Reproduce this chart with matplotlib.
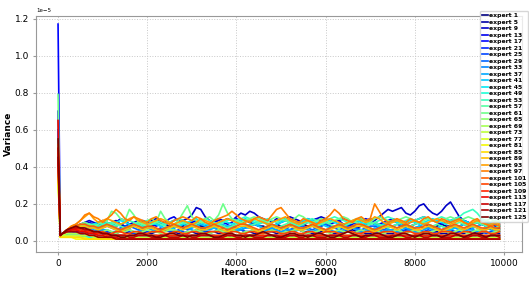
import matplotlib
matplotlib.use("Agg")
import matplotlib.pyplot as plt
import numpy as np

# iterations at which the variance was logged
iterations = [0, 50] + list(range(100, 10000, 100))

# variance per expert, in units of 1e-7 (hundredths of the 1e-5 axis unit)
expert_1 = [55, 3, 4, 5, 6, 7, 7, 8, 8, 9,
            8, 9, 10, 9, 8, 9, 8, 7, 8, 9,
            8, 7, 8, 9, 10, 9, 8, 7, 8, 8,
            9, 10, 9, 8, 8, 7, 8, 9, 8, 7,
            8, 9, 10, 11, 10, 9, 8, 8, 7, 8,
            9, 8, 7, 8, 9, 10, 9, 8, 8, 7,
            8, 9, 8, 7, 8, 9, 9, 8, 7, 8,
            9, 10, 9, 8, 9, 10, 11, 10, 9, 8,
            8, 9, 10, 9, 8, 7, 8, 9, 8, 8,
            7, 8, 9, 8, 7, 8, 9, 8, 7, 6,
            7]
expert_5 = [45, 3, 3, 4, 5, 5, 5, 5, 5, 5,
            4, 5, 5, 4, 4, 5, 5, 4, 4, 5,
            5, 4, 4, 5, 5, 6, 5, 5, 4, 4,
            5, 5, 4, 4, 5, 5, 5, 4, 4, 5,
            5, 6, 6, 5, 5, 4, 4, 5, 5, 5,
            4, 4, 5, 5, 6, 6, 5, 5, 4, 4,
            5, 5, 5, 4, 4, 5, 5, 6, 5, 5,
            4, 4, 5, 5, 5, 4, 4, 5, 5, 6,
            6, 5, 5, 4, 4, 5, 5, 4, 4, 5,
            5, 4, 4, 5, 5, 4, 4, 5, 4, 4,
            4]
expert_9 = [70, 3, 4, 6, 7, 8, 9, 10, 11, 10,
            9, 8, 9, 10, 11, 9, 8, 9, 10, 11,
            10, 9, 11, 12, 10, 9, 10, 11, 12, 11,
            12, 14, 18, 17, 13, 11, 10, 12, 11, 12,
            11, 13, 15, 14, 16, 15, 13, 12, 11, 10,
            12, 11, 12, 13, 12, 11, 10, 12, 11, 12,
            13, 12, 11, 10, 11, 12, 11, 10, 11, 12,
            11, 12, 11, 13, 15, 17, 16, 17, 18, 15,
            14, 16, 19, 20, 17, 15, 14, 16, 19, 21,
            17, 13, 11, 10, 9, 10, 9, 8, 9, 8,
            8]
expert_13 = [60, 3, 4, 5, 7, 8, 9, 9, 10, 9,
             10, 11, 9, 8, 10, 12, 11, 9, 8, 9,
             11, 10, 9, 8, 9, 10, 12, 13, 11, 10,
             9, 10, 11, 9, 8, 9, 10, 11, 10, 9,
             10, 12, 11, 9, 8, 9, 10, 11, 9, 8,
             9, 10, 11, 10, 9, 8, 9, 10, 11, 12,
             11, 10, 9, 10, 11, 9, 8, 9, 10, 11,
             12, 11, 10, 9, 10, 11, 12, 11, 10, 9,
             10, 11, 12, 13, 12, 11, 10, 9, 10, 11,
             12, 13, 11, 10, 9, 10, 11, 10, 9, 10,
             9]
expert_17 = [117, 3, 4, 4, 5, 5, 5, 4, 4, 4,
             3, 3, 3, 2, 2, 3, 3, 2, 2, 2,
             2, 2, 3, 3, 2, 2, 2, 3, 3, 2,
             3, 3, 2, 2, 2, 3, 3, 2, 2, 3,
             2, 2, 3, 3, 3, 2, 2, 2, 3, 3,
             2, 3, 3, 2, 2, 2, 3, 3, 2, 2,
             3, 3, 2, 2, 3, 3, 2, 2, 2, 3,
             3, 2, 2, 2, 3, 3, 3, 2, 2, 3,
             2, 2, 3, 3, 2, 2, 3, 3, 2, 2,
             3, 3, 2, 2, 2, 3, 3, 2, 2, 2,
             2]
expert_21 = [40, 3, 3, 4, 4, 4, 4, 3, 3, 3,
             3, 3, 2, 2, 3, 3, 2, 2, 2, 3,
             3, 2, 2, 2, 3, 3, 2, 2, 3, 3,
             2, 2, 2, 3, 3, 2, 2, 2, 3, 3,
             3, 2, 2, 3, 3, 3, 2, 2, 2, 3,
             3, 2, 2, 2, 3, 3, 2, 2, 3, 3,
             2, 2, 3, 3, 2, 2, 2, 3, 3, 2,
             2, 3, 3, 2, 2, 2, 3, 3, 3, 2,
             2, 2, 3, 3, 2, 2, 3, 3, 2, 2,
             3, 3, 2, 2, 2, 3, 3, 2, 2, 3,
             2]
expert_25 = [52, 3, 4, 5, 6, 6, 6, 6, 5, 5,
             5, 6, 5, 4, 5, 6, 6, 5, 4, 5,
             6, 5, 5, 6, 7, 6, 5, 5, 6, 5,
             4, 5, 6, 6, 5, 4, 5, 6, 5, 5,
             6, 7, 6, 5, 5, 6, 5, 4, 5, 6,
             6, 5, 5, 6, 7, 6, 5, 4, 5, 5,
             6, 6, 5, 5, 4, 5, 6, 7, 6, 5,
             5, 6, 5, 4, 5, 6, 6, 5, 5, 6,
             7, 6, 5, 5, 6, 5, 4, 5, 6, 6,
             5, 5, 6, 7, 6, 5, 5, 4, 5, 5,
             5]
expert_29 = [48, 3, 4, 5, 6, 7, 7, 8, 7, 7,
             6, 7, 8, 7, 6, 7, 8, 8, 7, 6,
             7, 8, 7, 6, 6, 7, 8, 9, 8, 7,
             6, 7, 8, 7, 7, 8, 7, 6, 7, 8,
             8, 7, 6, 7, 8, 9, 8, 7, 6, 7,
             8, 7, 7, 6, 7, 8, 8, 7, 6, 7,
             8, 9, 8, 7, 6, 7, 8, 7, 7, 6,
             7, 8, 8, 7, 6, 7, 8, 9, 8, 7,
             6, 7, 8, 7, 7, 8, 7, 6, 7, 8,
             8, 7, 6, 7, 8, 7, 6, 6, 7, 7,
             6]
expert_33 = [38, 3, 3, 3, 3, 3, 3, 2, 2, 2,
             2, 2, 2, 1, 1, 2, 2, 1, 1, 1,
             2, 2, 1, 1, 1, 2, 2, 1, 1, 2,
             2, 1, 1, 1, 2, 2, 2, 1, 1, 1,
             2, 2, 1, 1, 2, 2, 1, 1, 1, 2,
             2, 1, 1, 1, 2, 2, 1, 1, 2, 2,
             1, 1, 1, 2, 2, 1, 1, 1, 2, 2,
             2, 1, 1, 2, 2, 1, 1, 1, 2, 2,
             1, 1, 2, 2, 1, 1, 1, 2, 2, 1,
             1, 2, 2, 1, 1, 1, 2, 2, 1, 1,
             1]
expert_37 = [45, 3, 4, 5, 6, 6, 7, 6, 6, 6,
             5, 6, 6, 5, 5, 6, 7, 6, 5, 5,
             6, 7, 6, 5, 6, 7, 6, 6, 5, 6,
             7, 6, 5, 5, 6, 6, 7, 6, 5, 6,
             6, 5, 6, 7, 7, 6, 5, 5, 6, 7,
             6, 5, 6, 6, 5, 6, 7, 6, 5, 6,
             7, 6, 6, 5, 5, 6, 7, 7, 6, 5,
             6, 6, 7, 6, 5, 6, 6, 5, 6, 7,
             6, 5, 5, 6, 7, 6, 6, 5, 6, 6,
             7, 6, 5, 6, 6, 5, 6, 7, 6, 5,
             6]
expert_41 = [50, 3, 4, 5, 7, 8, 8, 8, 7, 8,
             7, 8, 9, 8, 7, 6, 7, 8, 9, 8,
             7, 8, 9, 9, 8, 7, 6, 7, 8, 9,
             8, 7, 8, 9, 8, 7, 7, 8, 9, 8,
             7, 6, 7, 8, 9, 9, 8, 7, 8, 9,
             8, 7, 8, 9, 8, 7, 6, 7, 8, 8,
             9, 8, 7, 8, 9, 8, 7, 8, 9, 9,
             8, 7, 6, 7, 8, 9, 8, 7, 8, 9,
             8, 7, 8, 9, 9, 8, 7, 8, 7, 6,
             7, 8, 9, 8, 7, 8, 9, 8, 7, 7,
             8]
expert_45 = [50, 3, 4, 5, 6, 7, 8, 8, 8, 9,
             10, 9, 8, 9, 10, 11, 10, 9, 8, 9,
             10, 11, 10, 9, 8, 9, 10, 9, 8, 9,
             10, 11, 12, 10, 9, 8, 9, 10, 11, 10,
             9, 10, 11, 12, 11, 10, 9, 10, 9, 8,
             9, 10, 11, 10, 9, 10, 11, 12, 11, 10,
             9, 10, 11, 10, 9, 8, 9, 10, 11, 10,
             9, 10, 9, 8, 9, 10, 11, 10, 9, 10,
             11, 10, 9, 10, 11, 12, 11, 10, 9, 10,
             11, 12, 11, 10, 9, 10, 11, 10, 9, 9,
             10]
expert_49 = [42, 3, 3, 3, 3, 3, 2, 2, 2, 2,
             2, 1, 1, 1, 1, 1, 1, 1, 1, 1,
             1, 1, 1, 1, 1, 1, 1, 1, 1, 1,
             1, 1, 1, 1, 1, 1, 1, 1, 1, 1,
             1, 1, 1, 1, 1, 1, 1, 1, 1, 1,
             1, 1, 1, 1, 1, 1, 1, 1, 1, 1,
             1, 1, 1, 1, 1, 1, 1, 1, 1, 1,
             1, 1, 1, 1, 1, 1, 1, 1, 1, 1,
             1, 1, 1, 1, 1, 1, 1, 1, 1, 1,
             1, 1, 1, 1, 1, 1, 1, 1, 1, 1,
             1]
expert_53 = [55, 3, 4, 5, 6, 7, 8, 8, 9, 9,
             8, 9, 10, 9, 8, 9, 10, 11, 10, 9,
             8, 9, 10, 11, 10, 9, 10, 11, 12, 11,
             10, 9, 10, 11, 12, 11, 10, 9, 10, 11,
             12, 11, 12, 13, 12, 11, 10, 11, 12, 11,
             10, 11, 12, 11, 10, 9, 10, 11, 12, 11,
             10, 11, 12, 13, 12, 11, 10, 11, 12, 11,
             10, 9, 10, 11, 12, 13, 12, 11, 10, 11,
             12, 11, 12, 13, 12, 11, 12, 13, 12, 11,
             12, 13, 15, 16, 17, 15, 12, 11, 10, 11,
             10]
expert_57 = [50, 3, 4, 5, 6, 7, 8, 9, 8, 8,
             7, 8, 9, 10, 9, 8, 7, 8, 9, 10,
             9, 8, 9, 10, 9, 8, 7, 8, 9, 10,
             9, 8, 9, 10, 10, 9, 8, 9, 8, 7,
             8, 9, 10, 9, 8, 9, 10, 10, 9, 8,
             7, 8, 9, 10, 9, 8, 9, 10, 9, 8,
             9, 10, 9, 8, 7, 8, 9, 10, 10, 9,
             8, 9, 10, 9, 8, 7, 8, 9, 10, 9,
             8, 9, 10, 10, 9, 8, 9, 8, 7, 8,
             9, 10, 9, 8, 9, 10, 9, 8, 8, 7,
             8]
expert_61 = [79, 3, 4, 6, 7, 8, 9, 10, 9, 8,
             9, 10, 11, 16, 15, 12, 11, 17, 14, 10,
             9, 11, 12, 10, 16, 12, 10, 9, 11, 15,
             19, 13, 11, 10, 12, 13, 11, 14, 20, 15,
             12, 11, 10, 11, 12, 13, 12, 11, 10, 12,
             13, 12, 11, 10, 12, 14, 13, 11, 10, 11,
             12, 11, 10, 11, 12, 13, 12, 10, 11, 12,
             11, 10, 12, 13, 12, 11, 10, 11, 12, 13,
             12, 11, 10, 11, 12, 11, 10, 11, 12, 13,
             12, 11, 12, 13, 12, 11, 10, 11, 12, 10,
             11]
expert_65 = [46, 3, 4, 5, 5, 6, 6, 5, 5, 5,
             4, 5, 6, 5, 4, 5, 5, 6, 5, 4,
             5, 6, 5, 5, 4, 5, 6, 6, 5, 4,
             5, 5, 6, 5, 4, 4, 5, 6, 5, 5,
             6, 5, 4, 5, 5, 6, 5, 4, 5, 6,
             5, 4, 5, 5, 6, 6, 5, 4, 5, 5,
             6, 5, 4, 5, 6, 5, 5, 4, 5, 6,
             5, 5, 6, 5, 4, 5, 5, 6, 5, 4,
             5, 6, 5, 4, 5, 5, 6, 5, 5, 4,
             5, 6, 5, 4, 5, 6, 5, 5, 4, 5,
             5]
expert_69 = [40, 3, 3, 4, 4, 4, 4, 4, 3, 3,
             3, 3, 3, 3, 3, 3, 3, 3, 3, 3,
             3, 3, 3, 3, 3, 3, 3, 3, 3, 3,
             3, 3, 3, 3, 3, 3, 3, 3, 3, 3,
             3, 3, 3, 3, 3, 3, 3, 3, 3, 3,
             3, 3, 3, 3, 3, 3, 3, 3, 3, 3,
             3, 3, 3, 3, 3, 3, 3, 3, 3, 3,
             3, 3, 3, 3, 3, 3, 3, 3, 3, 3,
             3, 3, 3, 3, 3, 3, 3, 3, 3, 3,
             3, 3, 3, 3, 3, 3, 3, 3, 3, 3,
             3]
expert_73 = [36, 3, 3, 3, 3, 3, 3, 3, 3, 2,
             2, 2, 2, 2, 2, 2, 2, 2, 2, 2,
             2, 2, 2, 2, 2, 2, 2, 2, 2, 2,
             2, 2, 2, 2, 2, 2, 2, 2, 2, 2,
             2, 2, 2, 2, 2, 2, 2, 2, 2, 2,
             2, 2, 2, 2, 2, 2, 2, 2, 2, 2,
             2, 2, 2, 2, 2, 2, 2, 2, 2, 2,
             2, 2, 2, 2, 2, 2, 2, 2, 2, 2,
             2, 2, 2, 2, 2, 2, 2, 2, 2, 2,
             2, 2, 2, 2, 2, 2, 2, 2, 2, 2,
             2]
expert_77 = [34, 2, 2, 2, 2, 2, 2, 2, 1, 1,
             1, 1, 1, 1, 1, 1, 1, 1, 1, 1,
             1, 1, 1, 1, 1, 1, 1, 1, 1, 1,
             1, 1, 1, 1, 1, 1, 1, 1, 1, 1,
             1, 1, 1, 1, 1, 1, 1, 1, 1, 1,
             1, 1, 1, 1, 1, 1, 1, 1, 1, 1,
             1, 1, 1, 1, 1, 1, 1, 1, 1, 1,
             1, 1, 1, 1, 1, 1, 1, 1, 1, 1,
             1, 1, 1, 1, 1, 1, 1, 1, 1, 1,
             1, 1, 1, 1, 1, 1, 1, 1, 1, 1,
             1]
expert_81 = [32, 2, 2, 2, 2, 1, 1, 1, 1, 1,
             1, 1, 1, 1, 1, 1, 1, 1, 1, 1,
             1, 1, 1, 1, 1, 1, 1, 1, 1, 1,
             1, 1, 1, 1, 1, 1, 1, 1, 1, 1,
             1, 1, 1, 1, 1, 1, 1, 1, 1, 1,
             1, 1, 1, 1, 1, 1, 1, 1, 1, 1,
             1, 1, 1, 1, 1, 1, 1, 1, 1, 1,
             1, 1, 1, 1, 1, 1, 1, 1, 1, 1,
             1, 1, 1, 1, 1, 1, 1, 1, 1, 1,
             1, 1, 1, 1, 1, 1, 1, 1, 1, 1,
             1]
expert_85 = [35, 2, 2, 2, 2, 2, 2, 1, 1, 1,
             1, 1, 1, 1, 1, 1, 1, 1, 1, 1,
             1, 1, 1, 1, 1, 1, 1, 1, 1, 1,
             1, 1, 1, 1, 1, 1, 1, 1, 1, 1,
             1, 1, 1, 1, 1, 1, 1, 1, 1, 1,
             1, 1, 1, 1, 1, 1, 1, 1, 1, 1,
             1, 1, 1, 1, 1, 1, 1, 1, 1, 1,
             1, 1, 1, 1, 1, 1, 1, 1, 1, 1,
             1, 1, 1, 1, 1, 1, 1, 1, 1, 1,
             1, 1, 1, 1, 1, 1, 1, 1, 1, 1,
             1]
expert_89 = [48, 3, 4, 5, 7, 8, 8, 8, 7, 7,
             6, 7, 8, 7, 6, 5, 6, 7, 8, 7,
             6, 7, 7, 6, 5, 6, 7, 8, 7, 6,
             7, 8, 7, 6, 6, 7, 8, 7, 6, 5,
             6, 7, 8, 8, 7, 6, 5, 6, 7, 8,
             7, 6, 7, 8, 7, 6, 6, 7, 8, 7,
             6, 5, 6, 7, 8, 7, 6, 7, 8, 8,
             7, 6, 5, 6, 7, 8, 7, 6, 7, 8,
             7, 6, 6, 7, 8, 7, 6, 5, 6, 7,
             8, 7, 6, 7, 8, 7, 6, 6, 7, 6,
             6]
expert_93 = [52, 3, 4, 6, 8, 9, 11, 13, 15, 12,
             10, 11, 12, 11, 10, 9, 10, 12, 13, 11,
             10, 9, 10, 11, 12, 11, 10, 9, 10, 11,
             10, 9, 10, 12, 11, 10, 9, 10, 11, 12,
             11, 10, 9, 10, 11, 12, 11, 10, 9, 10,
             11, 12, 13, 11, 10, 9, 10, 11, 10, 9,
             10, 11, 12, 11, 10, 9, 10, 11, 12, 11,
             10, 11, 13, 12, 10, 9, 10, 11, 10, 9,
             10, 11, 10, 9, 10, 11, 12, 11, 10, 9,
             10, 11, 10, 9, 10, 11, 10, 9, 9, 10,
             9]
expert_97 = [50, 3, 4, 6, 8, 9, 11, 14, 15, 13,
             12, 10, 12, 14, 17, 15, 12, 11, 13, 12,
             11, 10, 12, 13, 11, 10, 9, 11, 12, 13,
             12, 11, 13, 12, 10, 9, 11, 12, 13, 14,
             16, 14, 12, 11, 10, 12, 13, 12, 11, 14,
             17, 18, 15, 12, 11, 10, 12, 11, 10, 9,
             11, 12, 14, 17, 15, 12, 11, 10, 12, 13,
             11, 12, 20, 16, 12, 10, 11, 12, 11, 10,
             12, 11, 10, 12, 13, 11, 10, 12, 11, 10,
             11, 12, 10, 9, 11, 12, 10, 9, 8, 9,
             8]
expert_101 = [47, 3, 4, 6, 7, 8, 9, 9, 8, 8,
              7, 8, 9, 8, 7, 6, 7, 8, 9, 8,
              7, 8, 8, 7, 6, 7, 8, 9, 8, 7,
              8, 9, 8, 7, 7, 8, 9, 8, 7, 6,
              7, 8, 9, 9, 8, 7, 6, 7, 8, 9,
              8, 7, 8, 9, 8, 7, 7, 8, 9, 8,
              7, 6, 7, 8, 9, 8, 7, 8, 9, 9,
              8, 7, 6, 7, 8, 9, 8, 7, 8, 9,
              8, 7, 7, 8, 9, 8, 7, 6, 7, 8,
              9, 8, 7, 8, 9, 8, 7, 7, 8, 7,
              7]
expert_105 = [44, 3, 4, 5, 6, 7, 7, 6, 6, 5,
              5, 5, 4, 4, 5, 5, 4, 4, 5, 5,
              4, 4, 5, 5, 5, 4, 4, 5, 5, 4,
              4, 5, 5, 4, 4, 5, 5, 5, 4, 4,
              5, 5, 4, 4, 5, 5, 4, 4, 5, 5,
              5, 4, 4, 5, 5, 4, 4, 5, 5, 4,
              4, 5, 5, 5, 4, 4, 5, 5, 4, 4,
              5, 5, 4, 4, 5, 5, 5, 4, 4, 5,
              5, 4, 4, 5, 5, 4, 4, 5, 5, 5,
              4, 4, 5, 5, 4, 4, 5, 5, 4, 4,
              5]
expert_109 = [42, 3, 4, 5, 6, 6, 6, 5, 5, 4,
              4, 4, 3, 3, 3, 3, 3, 3, 3, 3,
              3, 3, 3, 3, 3, 3, 3, 3, 3, 3,
              3, 3, 3, 3, 3, 3, 3, 3, 3, 3,
              3, 3, 3, 3, 3, 3, 3, 3, 3, 3,
              3, 3, 3, 3, 3, 3, 3, 3, 3, 3,
              3, 3, 3, 3, 3, 3, 3, 3, 3, 3,
              3, 3, 3, 3, 3, 3, 3, 3, 3, 3,
              3, 3, 3, 3, 3, 3, 3, 3, 3, 3,
              3, 3, 3, 3, 3, 3, 3, 3, 3, 3,
              3]
expert_113 = [65, 3, 4, 5, 6, 6, 5, 5, 4, 4,
              3, 3, 2, 2, 2, 1, 1, 1, 1, 1,
              1, 1, 1, 1, 1, 1, 1, 1, 1, 1,
              1, 1, 1, 1, 1, 1, 1, 1, 1, 1,
              1, 1, 1, 1, 1, 1, 1, 1, 1, 1,
              1, 1, 1, 1, 1, 1, 1, 1, 1, 1,
              1, 1, 1, 1, 1, 1, 1, 1, 1, 1,
              1, 1, 1, 1, 1, 1, 1, 1, 1, 1,
              1, 1, 1, 1, 1, 1, 1, 1, 1, 1,
              1, 1, 1, 1, 1, 1, 1, 1, 1, 1,
              1]
expert_117 = [50, 3, 4, 6, 7, 7, 7, 6, 6, 5,
              5, 4, 4, 3, 3, 3, 3, 2, 2, 3,
              3, 3, 2, 2, 3, 3, 2, 2, 2, 3,
              3, 2, 2, 3, 3, 3, 2, 2, 2, 3,
              3, 2, 2, 3, 3, 2, 2, 2, 3, 3,
              3, 2, 2, 3, 3, 2, 2, 3, 3, 2,
              2, 2, 3, 3, 3, 2, 2, 3, 3, 2,
              2, 3, 3, 2, 2, 2, 3, 3, 3, 2,
              2, 3, 3, 2, 2, 3, 3, 2, 2, 2,
              3, 3, 2, 2, 3, 3, 2, 2, 3, 3,
              2]
expert_121 = [45, 3, 4, 5, 5, 5, 4, 4, 3, 3,
              2, 2, 2, 2, 1, 1, 1, 1, 1, 1,
              1, 1, 1, 1, 1, 1, 1, 1, 1, 1,
              1, 1, 1, 1, 1, 1, 1, 1, 1, 1,
              1, 1, 1, 1, 1, 1, 1, 1, 1, 1,
              1, 1, 1, 1, 1, 1, 1, 1, 1, 1,
              1, 1, 1, 1, 1, 1, 1, 1, 1, 1,
              1, 1, 1, 1, 1, 1, 1, 1, 1, 1,
              1, 1, 1, 1, 1, 1, 1, 1, 1, 1,
              1, 1, 1, 1, 1, 1, 1, 1, 1, 1,
              1]
expert_125 = [55, 3, 4, 6, 7, 8, 7, 7, 6, 5,
              5, 4, 4, 3, 3, 2, 2, 3, 3, 4,
              4, 3, 3, 2, 2, 3, 4, 4, 3, 3,
              2, 3, 3, 4, 4, 3, 2, 2, 3, 4,
              4, 3, 3, 2, 3, 3, 4, 5, 4, 3,
              2, 2, 3, 4, 4, 3, 3, 2, 3, 4,
              4, 3, 2, 2, 3, 4, 5, 4, 3, 2,
              3, 3, 4, 4, 3, 2, 2, 3, 4, 4,
              3, 2, 3, 4, 4, 3, 3, 2, 3, 4,
              4, 3, 2, 3, 4, 4, 3, 2, 3, 3,
              3]

expert_ids = list(range(1, 126, 4))
series = [expert_1, expert_5, expert_9, expert_13, expert_17, expert_21,
          expert_25, expert_29, expert_33, expert_37, expert_41, expert_45,
          expert_49, expert_53, expert_57, expert_61, expert_65, expert_69,
          expert_73, expert_77, expert_81, expert_85, expert_89, expert_93,
          expert_97, expert_101, expert_105, expert_109, expert_113,
          expert_117, expert_121, expert_125]

fig = plt.figure(figsize=(5.29, 2.81), dpi=100)
ax = fig.add_axes([0.068, 0.103, 0.918, 0.841])

colors = plt.cm.jet(np.linspace(0, 1, len(series)))
for eid, vals, c in zip(expert_ids, series, colors):
    ax.plot(iterations, np.array(vals) * 1e-7, color=c, lw=1.2,
            label=f"expert {eid}")

ax.set_ylim(-0.06e-5, 1.215e-5)
ax.grid(True, linestyle=":", color="#c8c8c8", linewidth=0.7)
for s in ax.spines.values():
    s.set_color("#999999")
ax.tick_params(labelsize=6.5, length=2.5, pad=2.5, color="#999999")
ax.yaxis.get_offset_text().set_fontsize(4)
ax.set_xlabel("Iterations (l=2 w=200)", fontsize=6.5, fontweight="bold", labelpad=0)
ax.set_ylabel("Variance", fontsize=6.5, fontweight="bold", labelpad=1)

ax.legend(loc="upper right", bbox_to_anchor=(0.998, 0.96),
          bbox_transform=fig.transFigure, borderaxespad=0,
          prop={"size": 4.4, "weight": "bold"}, handlelength=1.0,
          handletextpad=0.15, labelspacing=0.2, borderpad=0.3,
          framealpha=0.8)

plt.savefig("out.png", dpi=100)
